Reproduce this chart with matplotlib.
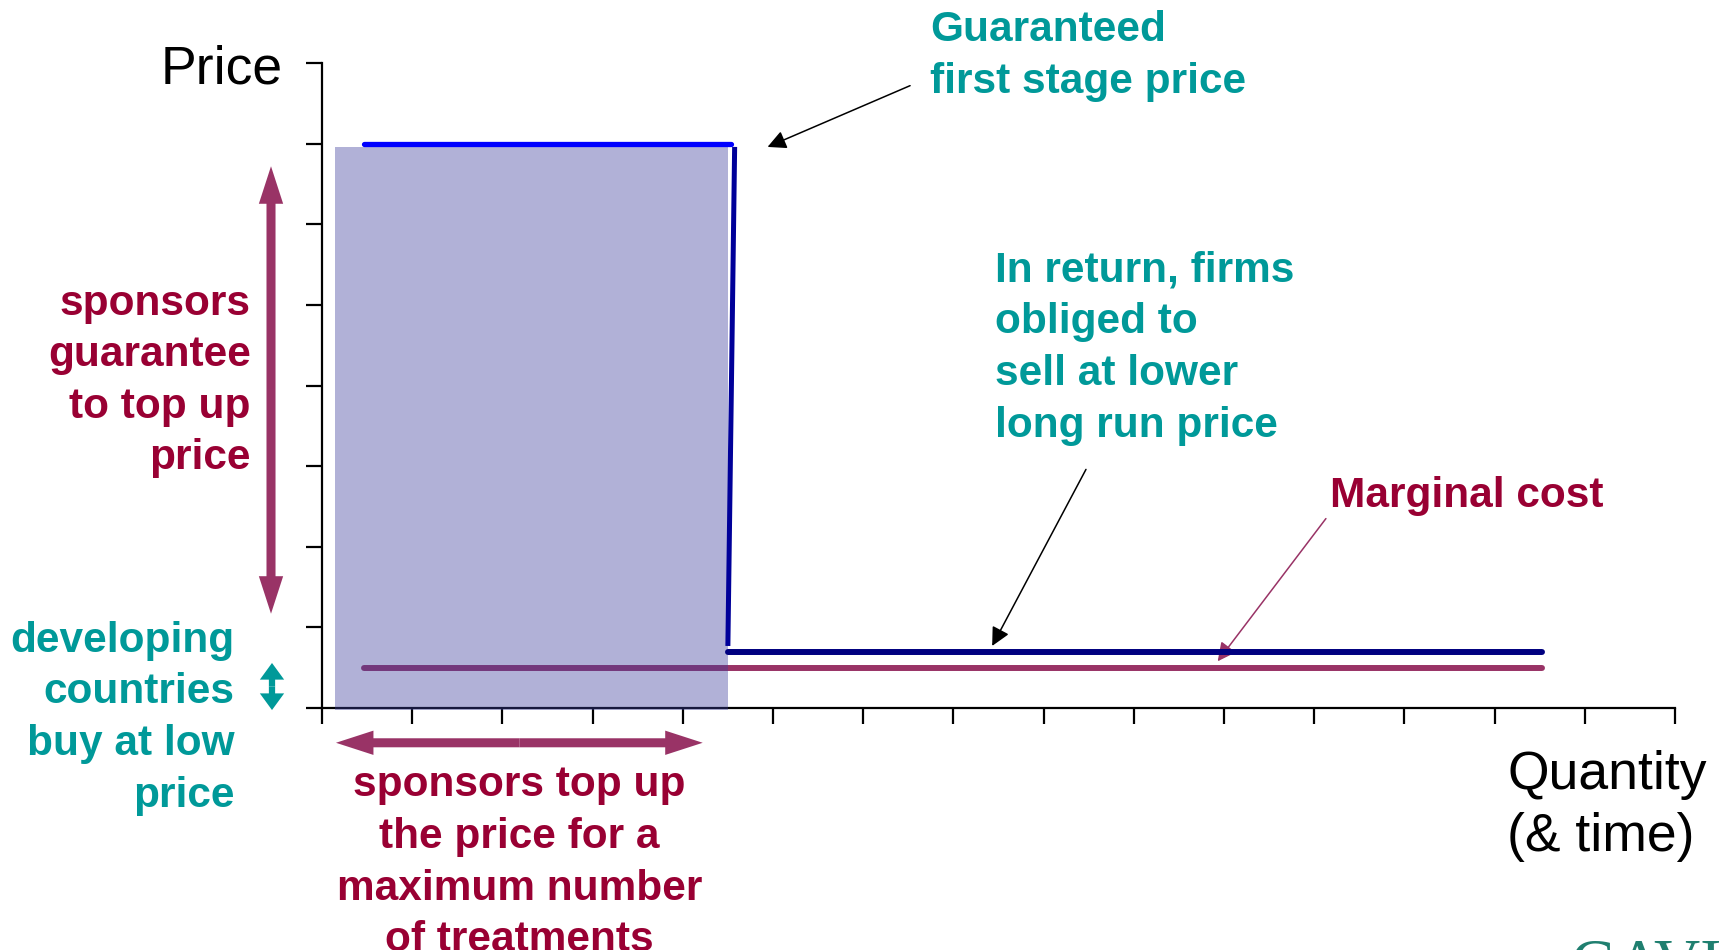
import matplotlib
matplotlib.use("Agg")
import matplotlib.pyplot as plt
from matplotlib.patches import Rectangle, FancyArrowPatch

plt.rcParams['font.family'] = ['Liberation Sans', 'DejaVu Sans']

# Colours
crimson = "#990033"
teal = "#009999"
plum = "#993366"

# Price schedule (quantity on x, price on y)
first_stage_x = [0.465, 4.53]
first_stage_y = [7.0, 7.0]
drop_x = [4.575, 4.5]
drop_y = [6.96, 0.77]
long_run_x = [4.5, 13.53]
long_run_y = [0.70, 0.70]
mc_x = [0.465, 13.53]
mc_y = [0.50, 0.50]

# Quantity covered by the sponsor top-up
topup_q = [0.144, 4.5]
topup_p = [-0.025, 6.96]

x_ticks = list(range(0, 16))
y_ticks = list(range(0, 9))

fig = plt.figure(figsize=(17.19, 9.5), dpi=100)
ax = fig.add_axes([0.1873, 0.2547, 0.7871, 0.6789])
ax.set_xlim(0, 15)
ax.set_ylim(0, 8)
ax.set_xticks(x_ticks)
ax.set_yticks(y_ticks)
ax.tick_params(direction='out', length=11.5, width=1.6, color='black',
               labelleft=False, labelbottom=False)
for side in ['top', 'right']:
    ax.spines[side].set_visible(False)
for side in ['left', 'bottom']:
    ax.spines[side].set_linewidth(1.6)

# Lines
ax.plot(mc_x, mc_y, color=plum, lw=4.3, solid_capstyle='round', zorder=2, clip_on=False)
ax.plot(long_run_x, long_run_y, color='#000080', lw=4.3, solid_capstyle='round', zorder=4, clip_on=False)
ax.plot(drop_x, drop_y, color='#000099', lw=3.6, solid_capstyle='butt', zorder=4, clip_on=False)
ax.plot(first_stage_x, first_stage_y, color='#0000FF', lw=3.8, solid_capstyle='round', zorder=5, clip_on=False)

# Shaded top-up area
ax.add_patch(Rectangle((topup_q[0], topup_p[0]), topup_q[1] - topup_q[0], topup_p[1] - topup_p[0],
                       facecolor=(60/255, 62/255, 155/255), alpha=0.4, lw=0, zorder=3, clip_on=False))


def double_arrow(p0, p1, color, head_len, head_w, tail_w):
    mid = ((p0[0] + p1[0]) / 2, (p0[1] + p1[1]) / 2)
    style = "simple,head_length=%g,head_width=%g,tail_width=%g" % (head_len, head_w, tail_w)
    for end in (p0, p1):
        ax.add_patch(FancyArrowPatch(mid, end, arrowstyle=style, mutation_scale=1,
                                     color=color, lw=0, shrinkA=0, shrinkB=0,
                                     clip_on=False, zorder=5))


double_arrow((-0.565, 1.17), (-0.565, 6.72), plum, 27, 17.5, 6.5)
double_arrow((-0.554, -0.025), (-0.554, 0.559), teal, 12, 17.5, 4.5)
double_arrow((0.155, -0.431), (4.221, -0.431), plum, 27, 17.5, 6.5)


def pointer(tail, head, color):
    ax.annotate('', xy=head, xytext=tail, annotation_clip=False,
                arrowprops=dict(arrowstyle='-|>', color=color, lw=1.1,
                                mutation_scale=28, shrinkA=0, shrinkB=0))


pointer((6.52, 7.72), (4.94, 6.96), 'black')
pointer((8.47, 2.96), (7.43, 0.77), 'black')
pointer((11.13, 2.35), (9.93, 0.58), plum)


def block(x, y0, lines, color, ha, size=30.5, weight='bold', step=0.64):
    for i, line in enumerate(lines):
        ax.text(x, y0 - i * step, line, color=color, ha=ha, va='baseline',
                fontsize=size, fontweight=weight, clip_on=False)


block(6.746, 8.269, ["Guaranteed", "first stage price"], teal, 'left')
block(7.459, 5.287, ["In return, firms", "obliged to", "sell at lower", "long run price"], teal, 'left')
block(11.175, 2.494, ["Marginal cost"], crimson, 'left')
block(-0.787, 4.879, ["sponsors", "guarantee", "to top up", "price"], crimson, 'right')
block(-0.969, 0.698, ["developing", "countries", "buy at low", "price"], teal, 'right')
block(2.189, -1.095, ["sponsors top up", "the price for a", "maximum number", "of treatments"], crimson, 'center')
block(-0.432, 7.752, ["Price"], 'black', 'right', size=38.5, weight='normal')
block(13.14, -1.0, ["Quantity", "(& time)"], 'black', 'left', size=38.5, weight='normal', step=0.776)

fig.text(0.9135, 0.0126, "GAVI", family=['Liberation Serif', 'DejaVu Serif'],
         fontsize=46, color='#1F7F6F', ha='left', va='top')

fig.savefig("out.png", dpi=100)
